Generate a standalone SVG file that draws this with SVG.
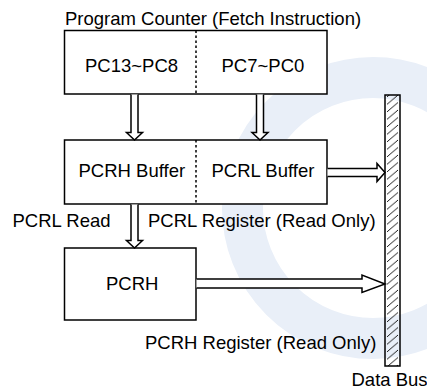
<svg xmlns="http://www.w3.org/2000/svg" width="427" height="389" viewBox="0 0 427 389">
<defs>
<style>
text{font-family:"Liberation Sans",Arial,sans-serif;font-size:18.5px;fill:#000}
.box{fill:#fff;stroke:#000;stroke-width:1.5}
.div{stroke:#000;stroke-width:1.5;stroke-dasharray:2.5 2.5;fill:none}
.arr{fill:#fff;stroke:#000;stroke-width:1.5;stroke-linejoin:miter}
</style>
<pattern id="hatch" patternUnits="userSpaceOnUse" x="385" y="95" width="15" height="7.5">
<path d="M2,9.35 L13,0 M2,1.85 L13,-7.5 M2,16.85 L13,7.5" stroke="#000" stroke-width="0.9" fill="none"/>
</pattern>
</defs>
<rect width="427" height="389" fill="#fff"/>
<g id="watermark">
<circle cx="373" cy="208" r="130.5" fill="none" stroke="#e9eff8" stroke-width="41"/>
</g>
<text x="65" y="25">Program Counter (Fetch Instruction)</text>
<g id="program-counter">
<rect class="box" x="64.5" y="30.5" width="262.5" height="63.5"/>
<line class="div" x1="196" y1="30.5" x2="196" y2="94"/>
<text x="85" y="72">PC13~PC8</text>
<text x="221.5" y="72">PC7~PC0</text>
</g>
<g id="buffer">
<rect class="box" x="64.5" y="140" width="262.5" height="64"/>
<line class="div" x1="196" y1="140" x2="196" y2="204"/>
<text x="78.5" y="177">PCRH Buffer</text>
<text x="211.5" y="177">PCRL Buffer</text>
</g>
<g id="pcrh">
<rect class="box" x="64.5" y="248" width="131.5" height="72"/>
<text x="106" y="290">PCRH</text>
</g>
<g id="data-bus">
<rect x="385" y="95" width="15" height="271" fill="url(#hatch)" stroke="#000" stroke-width="1.5"/>
<text x="351.5" y="386">Data Bus</text>
</g>
<g id="connectors">
<path class="arr" d="M131,94.5 V132.5 H126.5 L134.5,140 L142.5,132.5 H138 V94.5"/>
<path class="arr" d="M256.5,94.5 V132.5 H252 L260,140 L268,132.5 H263.5 V94.5"/>
<path class="arr" d="M131,204.5 V240.5 H126.5 L134.5,248 L142.5,240.5 H138 V204.5"/>
<path class="arr" d="M327.5,168.5 H377 V163.5 L385,172.5 L377,181.5 V176.5 H327.5"/>
<path class="arr" d="M196.5,279 H362 V275 L385,284 L362,292.5 V288 H196.5"/>
</g>
<g id="labels">
<text x="12.5" y="226.5">PCRL Read</text>
<text x="148" y="226.5">PCRL Register (Read Only)</text>
<text x="145" y="349">PCRH Register (Read Only)</text>
</g>
</svg>
